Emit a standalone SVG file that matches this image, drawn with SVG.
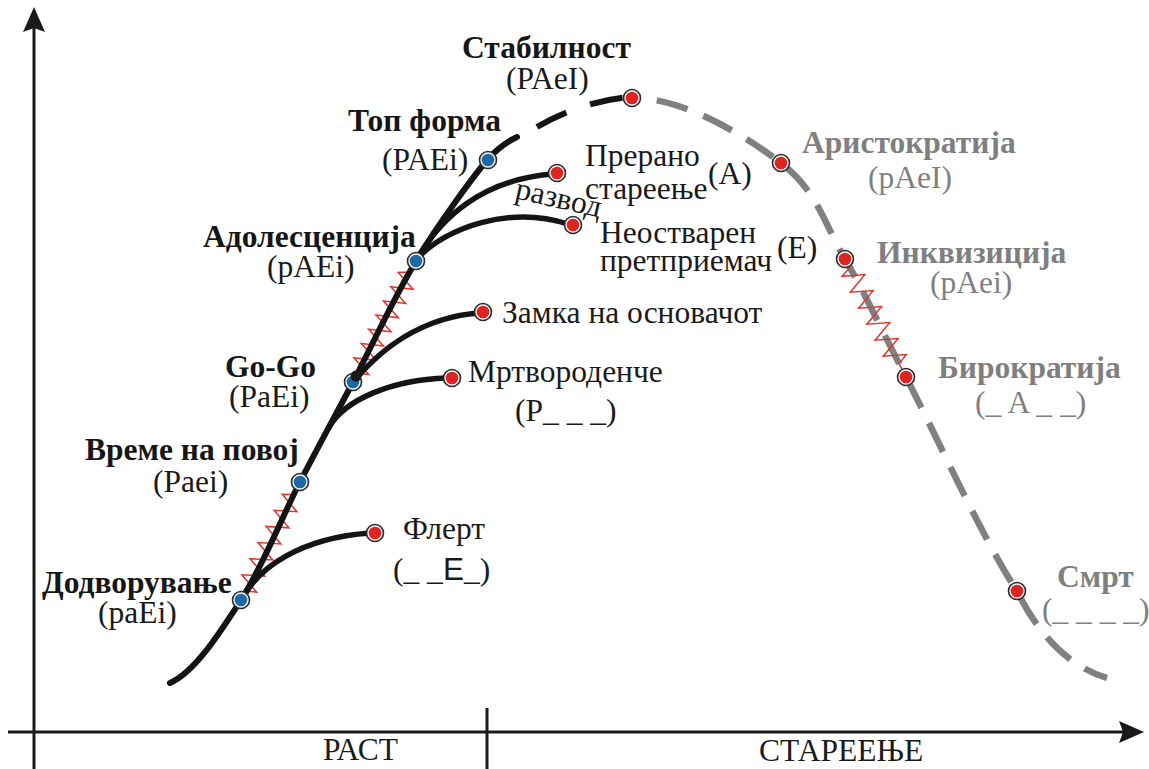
<svg xmlns="http://www.w3.org/2000/svg" width="1149" height="769" viewBox="0 0 1149 769">
<style>
text{font-family:"Liberation Serif","Times New Roman",serif;font-size:31.5px}
.b{font-weight:bold;fill:#161616}
.r{fill:#1a1a1a}
.gb{font-weight:bold;fill:#7f7f7f}
.gr{fill:#7f7f7f}
.axis{stroke:#1a1a1a;stroke-width:3;fill:none}
.main{stroke:#141414;stroke-width:6;fill:none;stroke-linecap:round}
.br{stroke:#141414;stroke-width:5.5;fill:none;stroke-linecap:round}
.dashb{stroke:#141414;stroke-width:6;fill:none;stroke-dasharray:33 25}
.dashg{stroke:#808080;stroke-width:6.5;fill:none;stroke-dasharray:32 17}
.zz{stroke:#e2342a;stroke-width:1.5;fill:none;stroke-linejoin:miter}
.ring{fill:#f4f4f4;stroke:#2a2a2a;stroke-width:1.6}
.blue{fill:#1d6aa3}
.red{fill:#de2420}
</style>
<rect width="1149" height="769" fill="#ffffff"/>
<g id="axes">
<line class="axis" x1="34" y1="769" x2="34" y2="26"/>
<polygon points="34,7 45,32 34,28 23,32" fill="#1a1a1a"/>
<line class="axis" x1="8" y1="732" x2="1124" y2="732"/>
<polygon points="1144,732 1119,721 1123,732 1119,743" fill="#1a1a1a"/>
<line class="axis" x1="487" y1="708" x2="487" y2="769"/>
<text class="r" x="323" y="760">РАСТ</text>
<text class="r" x="759" y="761">СТАРЕЕЊЕ</text>
</g>
<g id="connectors">
<path class="zz" d="M0,0 L10,0 L14,10.5 L23,-10.5 L32,10.5 L41,-10.5 L50,10.5 L59,-10.5 L68,10.5 L77,-10.5 L86,10.5 L95,-10.5 L104,10.5 L113,-10.5 L118,0 L132,0" transform="translate(241,600) rotate(-63.4)"/>
<path class="zz" d="M0,0 L10,0 L14,10.5 L22,-10.5 L30,10.5 L38,-10.5 L46,10.5 L54,-10.5 L62,10.5 L70,-10.5 L78,10.5 L86,-10.5 L94,10.5 L102,-10.5 L110,10.5 L118,-10.5 L124,0 L136,0" transform="translate(353,382) rotate(-62.5)"/>
<path class="dashg" d="M633,98 C685,98 745.7,136.2 781,163 C816.3,189.8 824.2,223.3 845,259 C865.8,294.7 877.3,321.7 906,377 C934.7,432.3 983.5,540.8 1017,591 C1045,648 1080,670 1107,678" stroke-dashoffset="25"/>
<path class="zz" stroke="#e8564c" stroke-width="1.3" d="M0,0 L10,0 L14,10.5 L23,-10.5 L32,10.5 L41,-10.5 L50,10.5 L59,-10.5 L68,10.5 L77,-10.5 L86,10.5 L95,-10.5 L104,10.5 L113,-10.5 L118,0 L133,0" transform="translate(845,259) rotate(62.7)"/>
<path class="main" d="M170,683 C195,672 219.3,633.5 241,600 C262.7,566.5 281.3,518.3 300,482 C318.7,445.7 333.7,418.8 353,382 C372.3,345.2 393.7,298 416,261 C438.3,224 470.2,180.7 487,160 C497,149 506,142 517,137"/>
<path class="dashb" d="M537,127 C562,112 595,100 630,97"/>
<path class="br" d="M243,598 C258,568 300,538 370,533"/>
<path class="br" d="M329,427 C345,400 390,380 447,378"/>
<path class="br" d="M355,380 C380,350 420,318 478,313"/>
<path class="br" d="M419,256 C440,220 480,180 552,174"/>
<path class="br" d="M418,258 C445,228 510,205 568,224"/>
</g>
<g id="node-dodvoruvanje">
<circle class="ring" cx="241" cy="600" r="8.5"/><circle class="blue" cx="241" cy="600" r="6.3"/>
<text class="b" x="42" y="593">Додворување</text>
<text class="r" x="98" y="623">(paEi)</text>
</g>
<g id="node-vreme">
<circle class="ring" cx="300" cy="482" r="8.5"/><circle class="blue" cx="300" cy="482" r="6.3"/>
<text class="b" x="85" y="460">Време на повој</text>
<text class="r" x="153" y="492">(Paei)</text>
</g>
<g id="node-gogo">
<circle class="ring" cx="353" cy="382" r="8.5"/><circle class="blue" cx="353" cy="382" r="6.3"/>
<circle cx="356" cy="376" r="5.5" fill="#1a1a1a"/>
<text class="b" x="225" y="377">Go-Go</text>
<text class="r" x="229" y="407">(PaEi)</text>
</g>
<g id="node-adolescencija">
<circle class="ring" cx="416" cy="261" r="8.5"/><circle class="blue" cx="416" cy="261" r="6.3"/>
<text class="b" x="203" y="247">Адолесценција</text>
<text class="r" x="267" y="277">(pAEi)</text>
</g>
<g id="node-top-forma">
<circle class="ring" cx="488" cy="160" r="8.5"/><circle class="blue" cx="488" cy="160" r="6.3"/>
<text class="b" x="348" y="131">Топ форма</text>
<text class="r" x="382" y="170">(PAEi)</text>
</g>
<g id="node-stabilnost">
<circle class="ring" cx="632" cy="98" r="8.5"/><circle class="red" cx="632" cy="98" r="6.3"/>
<text class="b" x="462" y="58">Стабилност</text>
<text class="r" x="506" y="89">(PAeI)</text>
</g>
<g id="node-flert">
<circle class="ring" cx="375" cy="533" r="8.5"/><circle class="red" cx="375" cy="533" r="6.3"/>
<text class="r" x="403" y="539">Флерт</text>
<text class="r" x="393" y="580">(_ _<tspan font-family="Liberation Sans, Arial, sans-serif">E</tspan>_)</text>
</g>
<g id="node-mrtvorodenche">
<circle class="ring" cx="452" cy="378" r="8.5"/><circle class="red" cx="452" cy="378" r="6.3"/>
<text class="r" x="468" y="382">Мртвороденче</text>
<text class="r" x="515" y="421">(P_ _ _)</text>
</g>
<g id="node-zamka">
<circle class="ring" cx="483" cy="312" r="8.5"/><circle class="red" cx="483" cy="312" r="6.3"/>
<text class="r" x="502" y="323">Замка на основачот</text>
</g>
<g id="node-prerano">
<circle class="ring" cx="557" cy="173" r="8.5"/><circle class="red" cx="557" cy="173" r="6.3"/>
<text class="r" x="585" y="166">Прерано</text>
<text class="r" x="585" y="199">стареење</text>
<text class="r" x="708" y="184">(A)</text>
<text class="r" font-size="22" transform="translate(514,198) rotate(13)">развод</text>
</g>
<g id="node-neostvaren">
<circle class="ring" cx="573" cy="225" r="8.5"/><circle class="red" cx="573" cy="225" r="6.3"/>
<text class="r" x="600" y="243">Неостварен</text>
<text class="r" x="600" y="271">претприемач</text>
<text class="r" x="777" y="258">(E)</text>
</g>
<g id="node-aristokratija">
<circle class="ring" cx="781" cy="163" r="8.5"/><circle class="red" cx="781" cy="163" r="6.3"/>
<text class="gb" x="802" y="153">Аристократија</text>
<text class="gr" x="868" y="188">(pAeI)</text>
</g>
<g id="node-inkvizicija">
<circle class="ring" cx="845" cy="259" r="8.5"/><circle class="red" cx="845" cy="259" r="6.3"/>
<text class="gb" x="877" y="263">Инквизиција</text>
<text class="gr" x="930" y="293">(pAei)</text>
</g>
<g id="node-birokratija">
<circle class="ring" cx="906" cy="377" r="8.5"/><circle class="red" cx="906" cy="377" r="6.3"/>
<text class="gb" x="938" y="378">Бирократија</text>
<text class="gr" x="975" y="413">(_ A _ _)</text>
</g>
<g id="node-smrt">
<circle class="ring" cx="1017" cy="591" r="8.5"/><circle class="red" cx="1017" cy="591" r="6.3"/>
<text class="gb" x="1057" y="587">Смрт</text>
<text class="gr" x="1042" y="620">(_ _ _ _)</text>
</g>
</svg>
